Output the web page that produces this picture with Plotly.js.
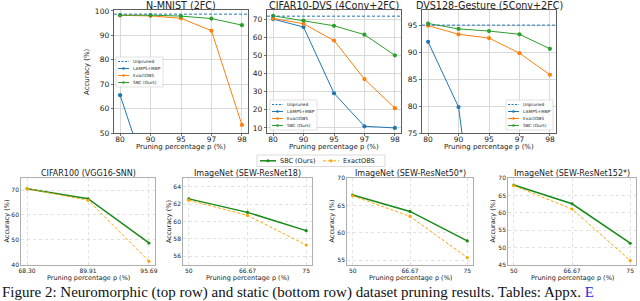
<!DOCTYPE html>
<html>
<head>
<meta charset="utf-8">
<script src="https://cdn.plot.ly/plotly-3.0.1.min.js"></script>
<style>html,body{margin:0;padding:0;background:#fff;}#chart{width:640px;height:301px;}</style>
</head>
<body>
<div id="chart"></div>
<script>
// ---------- DATA ----------
const topCats = ['80', '90', '95', '97', '98'];
const legendNames = ['Unpruned', 'LAMPS+MBP', 'ExactOBS', 'SBC (Ours)'];

const nmnistUnpruned = 98.7;
const nmnistLamps = [65.5, 28.0, 15.0, 12.0, 10.0];
const nmnistExact = [98.2, 98.0, 97.0, 91.9, 53.3];
const nmnistSbc   = [98.3, 98.3, 97.9, 96.9, 94.2];

const cifarDvsUnpruned = 71.6;
const cifarDvsLamps = [70.0, 65.6, 29.1, 10.9, 10.0];
const cifarDvsExact = [70.4, 67.4, 58.2, 36.9, 20.9];
const cifarDvsSbc   = [71.8, 69.2, 66.3, 61.4, 50.0];

const gestureUnpruned = 95.0;
const gestureLamps = [91.9, 79.8, 37.0, 20.0, 15.0];
const gestureExact = [94.9, 93.3, 92.6, 89.8, 85.8];
const gestureSbc   = [95.3, 94.3, 93.9, 93.3, 90.6];

const cifar100Cats = ['68.30', '89.91', '95.69'];
const cifar100Sbc   = [70.5, 66.5, 48.8];
const cifar100Exact = [70.5, 65.9, 41.5];

const imagenetCats = ['50', '66.67', '75'];
const r18Sbc   = [62.6, 61.05, 58.95];
const r18Exact = [62.45, 60.7, 57.3];
const r50Sbc   = [66.9, 63.9, 58.5];
const r50Exact = [66.75, 63.0, 55.45];
const r152Sbc   = [68.0, 62.6, 51.25];
const r152Exact = [67.8, 61.1, 46.25];

const topTitles = ['N-MNIST (2FC)', 'CIFAR10-DVS (4Conv+2FC)', 'DVS128-Gesture (5Conv+2FC)'];
const bottomTitles = ['CIFAR100 (VGG16-SNN)', 'ImageNet (SEW-ResNet18)', 'ImageNet (SEW-ResNet50*)', 'ImageNet (SEW-ResNet152*)'];
const xLabel = 'Pruning percentage p (%)';
const yLabel = 'Accuracy (%)';
const bottomLegendNames = ['SBC (Ours)', 'ExactOBS'];
const captionText = 'Figure 2: Neuromorphic (top row) and static (bottom row) dataset pruning results. Tables: Appx. ';
const captionLink = 'E';

// ---------- LAYOUT HELPERS ----------
const W = 640, H = 301;
const px = x => x / W;
const py = y => 1 - y / H;
const FONT = 'DejaVu Sans, sans-serif';
const COL = {blue: '#1f77b4', orange: '#ff7f0e', green: '#2ca02c', sbc: '#178a17', exact: '#ffa500'};

const topX = [[114, 248], [267, 401], [422, 556]];
const topY = [10, 133];
const botX = [[21, 155], [183, 312], [347, 473], [508, 636]];
const botY = [178, 265];

const topPanels = [
  {unp: nmnistUnpruned, lamps: nmnistLamps, exact: nmnistExact, sbc: nmnistSbc, range: [50, 100.4], dtick: 10},
  {unp: cifarDvsUnpruned, lamps: cifarDvsLamps, exact: cifarDvsExact, sbc: cifarDvsSbc, range: [7.2, 75], dtick: 10},
  {unp: gestureUnpruned, lamps: gestureLamps, exact: gestureExact, sbc: gestureSbc, range: [75, 97.8], dtick: 5}
];
const botPanels = [
  {cats: cifar100Cats, sbc: cifar100Sbc, exact: cifar100Exact, range: [39.99, 74.8], dtick: 10},
  {cats: imagenetCats, sbc: r18Sbc, exact: r18Exact, range: [55, 65], dtick: 2},
  {cats: imagenetCats, sbc: r50Sbc, exact: r50Exact, range: [54.1, 70.01], dtick: 5},
  {cats: imagenetCats, sbc: r152Sbc, exact: r152Exact, range: [44.99, 70.01], dtick: 5}
];

const traces = [];
const layout = {
  width: W, height: H,
  margin: {l: 0, r: 0, t: 0, b: 0},
  paper_bgcolor: '#fff', plot_bgcolor: '#fff',
  showlegend: false,
  font: {family: FONT, color: '#222'},
  shapes: [], annotations: []
};

function ann(text, x, y, size, opts) {
  layout.annotations.push(Object.assign({
    text: text, x: px(x), y: py(y), xref: 'paper', yref: 'paper',
    showarrow: false, xanchor: 'center', yanchor: 'middle',
    font: {size: size, family: FONT, color: '#222'}, borderpad: 0
  }, opts || {}));
}

function topAxis(i) {
  const n = i + 1;
  const xs = 'xaxis' + (n === 1 ? '' : n), ys = 'yaxis' + (n === 1 ? '' : n);
  const common = {
    showline: true, mirror: true, linecolor: '#333', linewidth: 0.8,
    showgrid: true, gridcolor: '#cfcfcf', gridwidth: 0.8,
    ticks: 'outside', ticklen: 2.5, tickwidth: 0.7, tickcolor: '#333',
    tickfont: {size: 7.5, family: FONT, color: '#222'},
    zeroline: false, fixedrange: true
  };
  layout[xs] = Object.assign({}, common, {
    type: 'category', domain: [px(topX[i][0]), px(topX[i][1])], range: [-0.2, 4.2],
    anchor: 'y' + (n === 1 ? '' : n), ticklabelstandoff: -3
  });
  layout[ys] = Object.assign({}, common, {
    domain: [py(topY[1]), py(topY[0])], range: topPanels[i].range, dtick: topPanels[i].dtick,
    anchor: 'x' + (n === 1 ? '' : n)
  });
}

function botAxis(j) {
  const n = j + 4;
  const p = botPanels[j];
  const common = {
    showline: true, mirror: true, linecolor: '#9a9a9a', linewidth: 0.8,
    showgrid: true, gridcolor: '#d4d4d4', gridwidth: 0.7, griddash: 'dot',
    ticks: '', ticklen: 0,
    tickfont: {size: 6, family: FONT, color: '#222'},
    zeroline: false, fixedrange: true
  };
  layout['xaxis' + n] = Object.assign({}, common, {
    type: 'category', domain: [px(botX[j][0]), px(botX[j][1])], range: [-0.1, 2.1], anchor: 'y' + n
  });
  layout['yaxis' + n] = Object.assign({}, common, {
    domain: [py(botY[1]), py(botY[0])], range: p.range, dtick: p.dtick, anchor: 'x' + n
  });
}

// ---------- TOP ROW ----------
topPanels.forEach((p, i) => {
  topAxis(i);
  const n = i + 1, sx = n === 1 ? '' : n;
  const xa = 'x' + sx, ya = 'y' + sx;
  const mk = (y, c, name) => ({
    type: 'scatter', mode: 'lines+markers', x: topCats, y: y, name: name,
    xaxis: xa, yaxis: ya, cliponaxis: true,
    line: {color: c, width: 1}, marker: {color: c, size: 4.2, symbol: 'circle'}
  });
  traces.push(mk(p.lamps, COL.blue, legendNames[1]));
  traces.push(mk(p.exact, COL.orange, legendNames[2]));
  traces.push(mk(p.sbc, COL.green, legendNames[3]));
  layout.shapes.push({
    type: 'line', xref: xa + ' domain', yref: ya, x0: 0, x1: 1, y0: p.unp, y1: p.unp,
    line: {color: COL.blue, width: 1, dash: '3px,2px'}, layer: 'above'
  });
  const cx = (topX[i][0] + topX[i][1]) / 2;
  ann(topTitles[i], cx, 5.8, 9.6);
  ann(xLabel, cx, 146.5, 7);
});
ann(yLabel, 87, 72, 7, {textangle: -90});

// top legends
const topLegendBoxes = [[116, 57], [270, 100], [506, 100]];
const topLegendColors = [COL.blue, COL.blue, COL.orange, COL.green];
topLegendBoxes.forEach(b => {
  const [x0, y0] = b;
  layout.shapes.push({type: 'rect', xref: 'paper', yref: 'paper', x0: px(x0), x1: px(x0 + 47), y0: py(y0), y1: py(y0 + 30),
    fillcolor: 'rgba(255,255,255,0.85)', line: {color: '#cccccc', width: 0.6}, layer: 'above'});
  legendNames.forEach((name, k) => {
    const yc = y0 + 4.5 + k * 7;
    layout.shapes.push({type: 'line', xref: 'paper', yref: 'paper', x0: px(x0 + 2), x1: px(x0 + 13), y0: py(yc), y1: py(yc),
      line: {color: topLegendColors[k], width: 1, dash: k === 0 ? '2px,1.5px' : 'solid'}, layer: 'above'});
    if (k > 0) {
      layout.shapes.push({type: 'circle', xref: 'paper', yref: 'paper', x0: px(x0 + 6.2), x1: px(x0 + 8.8), y0: py(yc - 1.3), y1: py(yc + 1.3),
        fillcolor: topLegendColors[k], line: {width: 0}, layer: 'above'});
    }
    ann(name, x0 + 15.5, yc, 4.3, {xanchor: 'left'});
  });
});

// ---------- BOTTOM ROW ----------
botPanels.forEach((p, j) => {
  botAxis(j);
  const n = j + 4;
  traces.push({type: 'scatter', mode: 'lines+markers', x: p.cats, y: p.sbc, name: bottomLegendNames[0],
    xaxis: 'x' + n, yaxis: 'y' + n, line: {color: COL.sbc, width: 1.5}, marker: {color: COL.sbc, size: 3.2}});
  traces.push({type: 'scatter', mode: 'lines+markers', x: p.cats, y: p.exact, name: bottomLegendNames[1],
    xaxis: 'x' + n, yaxis: 'y' + n, line: {color: COL.exact, width: 1, dash: '3px,2px'}, marker: {color: COL.exact, size: 3.2}});
  const cx = (botX[j][0] + botX[j][1]) / 2;
  ann(bottomTitles[j], cx, 173.5, 8);
  ann(xLabel, cx, 277.5, 6.5);
});
[6, 168.5, 331, 492].forEach(x => ann(yLabel, x, 221.5, 6.5, {textangle: -90}));

// bottom legend
layout.shapes.push({type: 'rect', xref: 'paper', yref: 'paper', x0: px(257), x1: px(385), y0: py(155), y1: py(166.5),
  fillcolor: '#fff', line: {color: '#cccccc', width: 0.7}, layer: 'above'});
[[260, COL.sbc, 'solid', 1.5], [323, COL.exact, '3px,2px', 1]].forEach((e, k) => {
  const [x0, c, d, w] = e, yc = 160.8;
  layout.shapes.push({type: 'line', xref: 'paper', yref: 'paper', x0: px(x0), x1: px(x0 + 16), y0: py(yc), y1: py(yc),
    line: {color: c, width: w, dash: d}, layer: 'above'});
  layout.shapes.push({type: 'circle', xref: 'paper', yref: 'paper', x0: px(x0 + 6.5), x1: px(x0 + 9.5), y0: py(yc - 1.5), y1: py(yc + 1.5),
    fillcolor: c, line: {width: 0}, layer: 'above'});
  ann(bottomLegendNames[k], x0 + 19, yc, 6.5, {xanchor: 'left'});
});

// caption
ann(captionText + '<span style="color:#2a2ae0">' + captionLink + '</span>', 1, 292.5, 15,
  {xanchor: 'left', font: {size: 15, family: 'Liberation Serif, Times New Roman, serif', color: '#111'}});

Plotly.newPlot('chart', traces, layout, {staticPlot: true, displayModeBar: false});
</script>
</body>
</html>
